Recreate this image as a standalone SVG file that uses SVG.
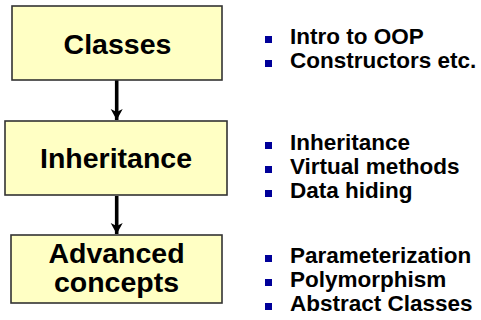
<svg xmlns="http://www.w3.org/2000/svg" width="481" height="320" viewBox="0 0 481 320">
  <style>
    .box { fill: #FFFFC4; stroke: #333333; stroke-width: 1.6; }
    .title { font-family: "Liberation Sans", Arial, sans-serif; font-weight: bold; font-size: 28.5px; fill: #000; text-anchor: middle; }
    .item { font-family: "Liberation Sans", Arial, sans-serif; font-weight: bold; font-size: 22.5px; fill: #000; }
    .bullet { fill: #000099; }
    .conn { stroke: #000; stroke-width: 3.6; fill: none; }
  </style>
  <defs>
    <marker id="arrow" markerUnits="userSpaceOnUse" markerWidth="12" markerHeight="14" refX="11" refY="6" orient="auto">
      <path d="M0,0 L11,6 L0,12 L3,6 Z" fill="#000"/>
    </marker>
  </defs>

  <rect width="481" height="320" fill="#fff"/>

  <g id="connectors">
    <line class="conn" x1="116.7" y1="80" x2="116.7" y2="120" marker-end="url(#arrow)"/>
    <line class="conn" x1="116.7" y1="196" x2="116.7" y2="234" marker-end="url(#arrow)"/>
  </g>

  <g id="classes">
    <rect class="box" x="12" y="6" width="210" height="74"/>
    <text class="title" x="117.5" y="54">Classes</text>
  </g>

  <g id="inheritance">
    <rect class="box" x="5" y="121" width="222" height="74"/>
    <text class="title" x="116" y="168">Inheritance</text>
  </g>

  <g id="advanced-concepts">
    <rect class="box" x="11" y="235" width="211" height="68"/>
    <text class="title" x="116.5" y="263">Advanced</text>
    <text class="title" x="116.5" y="292">concepts</text>
  </g>

  <g id="classes-topics">
    <rect class="bullet" x="265" y="36" width="7" height="7"/>
    <text class="item" x="290" y="44">Intro to OOP</text>
    <rect class="bullet" x="265" y="60" width="7" height="7"/>
    <text class="item" x="290" y="68">Constructors etc.</text>
  </g>

  <g id="inheritance-topics">
    <rect class="bullet" x="265" y="142" width="7" height="7"/>
    <text class="item" x="290" y="150">Inheritance</text>
    <rect class="bullet" x="265" y="166" width="7" height="7"/>
    <text class="item" x="290" y="174">Virtual methods</text>
    <rect class="bullet" x="265" y="190" width="7" height="7"/>
    <text class="item" x="290" y="198">Data hiding</text>
  </g>

  <g id="advanced-topics">
    <rect class="bullet" x="265" y="255" width="7" height="7"/>
    <text class="item" x="290" y="263">Parameterization</text>
    <rect class="bullet" x="265" y="279" width="7" height="7"/>
    <text class="item" x="290" y="287">Polymorphism</text>
    <rect class="bullet" x="265" y="303" width="7" height="7"/>
    <text class="item" x="290" y="311">Abstract Classes</text>
  </g>
</svg>
